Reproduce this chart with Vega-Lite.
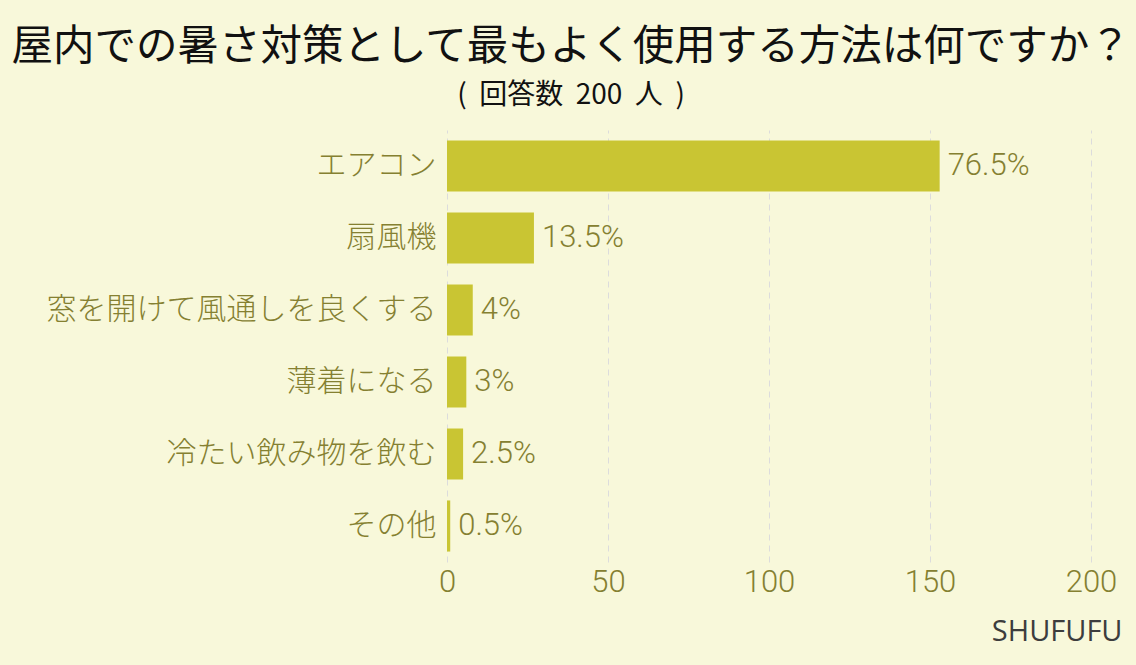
{
  "$schema": "https://vega.github.io/schema/vega-lite/v6.json",
  "autosize": "none",
  "width": 644,
  "height": 432,
  "padding": {"left": 447, "top": 130, "right": 45, "bottom": 103},
  "background": "#f8f8da",
  "title": {
    "text": "屋内での暑さ対策として最もよく使用する方法は何ですか？",
    "subtitle": "( \u00a0回答数 \u00a0200 \u00a0人 \u00a0)",
    "anchor": "middle",
    "frame": "group",
    "dx": -198,
    "offset": 20,
    "font": "Noto Sans CJK JP",
    "fontSize": 41.5,
    "fontWeight": "normal",
    "color": "#111111",
    "subtitleFont": "Noto Sans CJK JP",
    "subtitleFontSize": 28,
    "subtitleColor": "#111111",
    "subtitlePadding": 14
  },
  "data": {
    "values": [
      {"method": "エアコン", "count": 153, "label": "76.5%"},
      {"method": "扇風機", "count": 27, "label": "13.5%"},
      {"method": "窓を開けて風通しを良くする", "count": 8, "label": "4%"},
      {"method": "薄着になる", "count": 6, "label": "3%"},
      {"method": "冷たい飲み物を飲む", "count": 5, "label": "2.5%"},
      {"method": "その他", "count": 1, "label": "0.5%"}
    ]
  },
  "encoding": {
    "y": {
      "field": "method",
      "type": "nominal",
      "sort": null,
      "scale": {"paddingInner": 0.29, "paddingOuter": 0.145},
      "axis": {
        "title": null,
        "domain": false,
        "ticks": false,
        "labelPadding": 11,
        "labelFont": "Noto Sans CJK JP",
        "labelFontSize": 30,
        "labelFontWeight": 300,
        "labelColor": "#858031",
        "labelLimit": 500
      }
    },
    "x": {
      "field": "count",
      "type": "quantitative",
      "scale": {"domain": [0, 200]},
      "axis": {
        "values": [0, 50, 100, 150, 200],
        "title": "SHUFUFU",
        "titleFont": "Open Sans",
        "titleFontSize": 29,
        "titleFontWeight": "normal",
        "titleColor": "#3d3d3d",
        "titleAlign": "right",
        "titleAnchor": "end",
        "titleX": 675,
        "titlePadding": 20,
        "domain": false,
        "ticks": false,
        "grid": true,
        "gridColor": "#dcdcdc",
        "gridDash": [6, 5],
        "gridWidth": 1,
        "labelPadding": 5,
        "labelFlush": false,
        "labelFont": "Roboto",
        "labelFontSize": 31,
        "labelFontWeight": 300,
        "labelColor": "#858031"
      }
    }
  },
  "layer": [
    {"mark": {"type": "bar", "color": "#c9c533"}},
    {
      "mark": {"type": "text", "align": "left", "baseline": "middle", "dx": 8, "font": "Roboto", "fontSize": 31, "fontWeight": 300, "color": "#858031"},
      "encoding": {"text": {"field": "label"}}
    }
  ],
  "config": {"view": {"stroke": null}}
}
